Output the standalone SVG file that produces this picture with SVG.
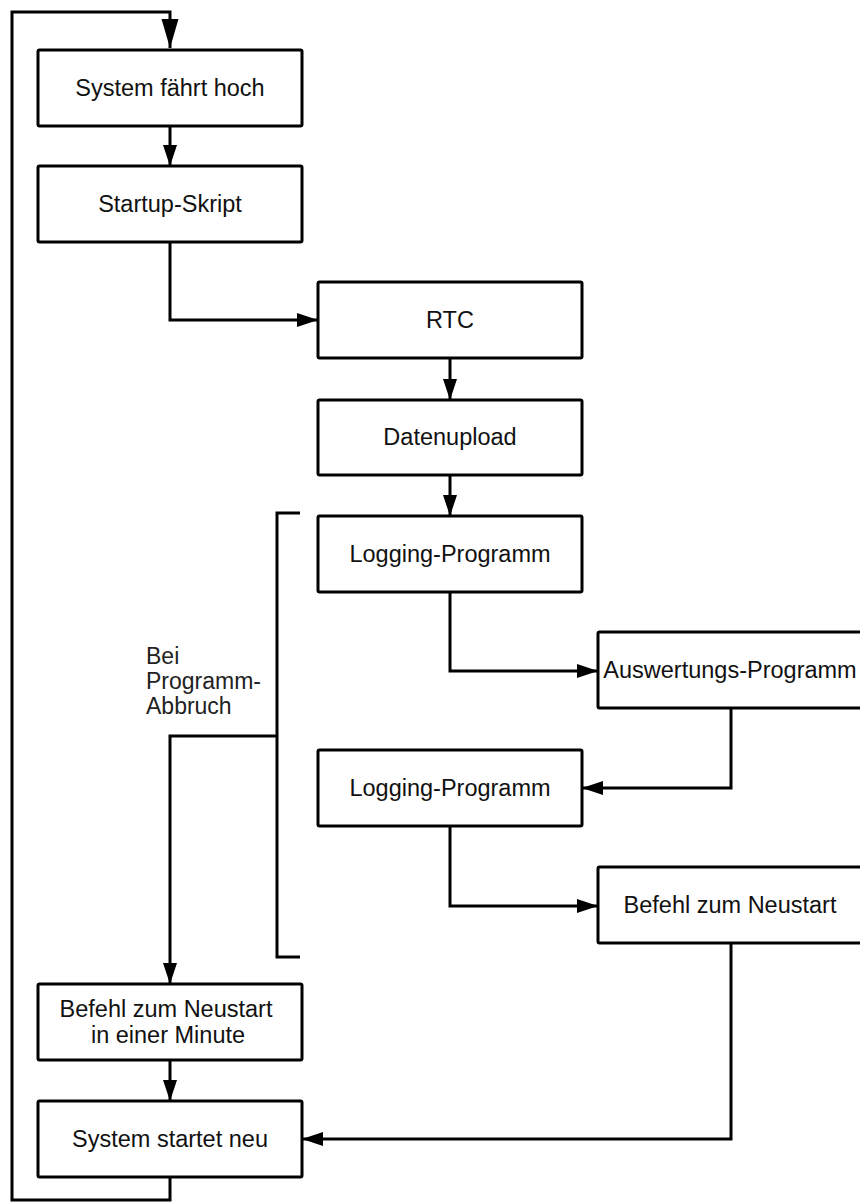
<svg xmlns="http://www.w3.org/2000/svg" width="860" height="1203" viewBox="0 0 860 1203">
<style>
.box{fill:#fff;stroke:#000;stroke-width:3;}
.t{font-family:"Liberation Sans",Arial,sans-serif;font-size:23.5px;fill:#111;text-anchor:middle;}
.lbl{font-family:"Liberation Sans",Arial,sans-serif;font-size:23px;fill:#222;}
.c{fill:none;stroke:#000;stroke-width:3;stroke-linejoin:miter;}
</style>
<defs>
<marker id="ar" markerUnits="userSpaceOnUse" markerWidth="22" markerHeight="16" refX="20" refY="7" orient="auto" viewBox="0 0 22 16">
<path d="M0,0 L21,7 L0,14 z" fill="#000"/>
</marker>
<marker id="arBig" markerUnits="userSpaceOnUse" markerWidth="30" markerHeight="18" refX="29" refY="8.5" orient="auto" viewBox="0 0 30 18">
<path d="M0,0 L29,8.5 L0,17 z" fill="#000"/>
</marker>
</defs>
<rect width="860" height="1203" fill="#fff"/>
<g id="connectors">
<path class="c" d="M170,126 V165" marker-end="url(#ar)"/>
<path class="c" d="M170,242 V320 H317" marker-end="url(#ar)"/>
<path class="c" d="M450,358 V399" marker-end="url(#ar)"/>
<path class="c" d="M450,475 V515" marker-end="url(#ar)"/>
<path class="c" d="M450,592 V671 H597" marker-end="url(#ar)"/>
<path class="c" d="M731,708 V788 H583" marker-end="url(#ar)"/>
<path class="c" d="M450,826 V906 H597" marker-end="url(#ar)"/>
<path class="c" d="M731,943 V1139 H303" marker-end="url(#ar)"/>
<path class="c" d="M300,513 H277 V957 H300"/>
<path class="c" d="M277,736 H170 V983" marker-end="url(#ar)"/>
<path class="c" d="M170,1060 V1100" marker-end="url(#ar)"/>
<path class="c" d="M170,1177 V1200 H12 V12 H170 V48" marker-end="url(#arBig)"/>
</g>
<g id="n1"><rect class="box" x="38" y="50" width="264" height="76" rx="1.5"/><text class="t" x="170" y="96">System fährt hoch</text></g>
<g id="n2"><rect class="box" x="38" y="166" width="264" height="76" rx="1.5"/><text class="t" x="170" y="212">Startup-Skript</text></g>
<g id="n3"><rect class="box" x="318" y="282" width="264" height="76" rx="1.5"/><text class="t" x="450" y="328">RTC</text></g>
<g id="n4"><rect class="box" x="318" y="400" width="264" height="75" rx="1.5"/><text class="t" x="450" y="445">Datenupload</text></g>
<g id="n5"><rect class="box" x="318" y="516" width="264" height="76" rx="1.5"/><text class="t" x="450" y="562">Logging-Programm</text></g>
<g id="n6"><rect class="box" x="598" y="632" width="264" height="76" rx="1.5"/><text class="t" x="730" y="678">Auswertungs-Programm</text></g>
<g id="n7"><rect class="box" x="318" y="750" width="264" height="76" rx="1.5"/><text class="t" x="450" y="796">Logging-Programm</text></g>
<g id="n8"><rect class="box" x="598" y="867" width="264" height="76" rx="1.5"/><text class="t" x="730" y="913">Befehl zum Neustart</text></g>
<g id="n9"><rect class="box" x="38" y="984" width="264" height="76" rx="1.5"/><text class="t" x="166" y="1017">Befehl zum Neustart</text><text class="t" x="168" y="1043">in einer Minute</text></g>
<g id="n10"><rect class="box" x="38" y="1101" width="264" height="76" rx="1.5"/><text class="t" x="170" y="1147">System startet neu</text></g>
<g id="label"><text class="lbl" x="146" y="664">Bei</text><text class="lbl" x="146" y="689">Programm-</text><text class="lbl" x="146" y="714">Abbruch</text></g>
</svg>
